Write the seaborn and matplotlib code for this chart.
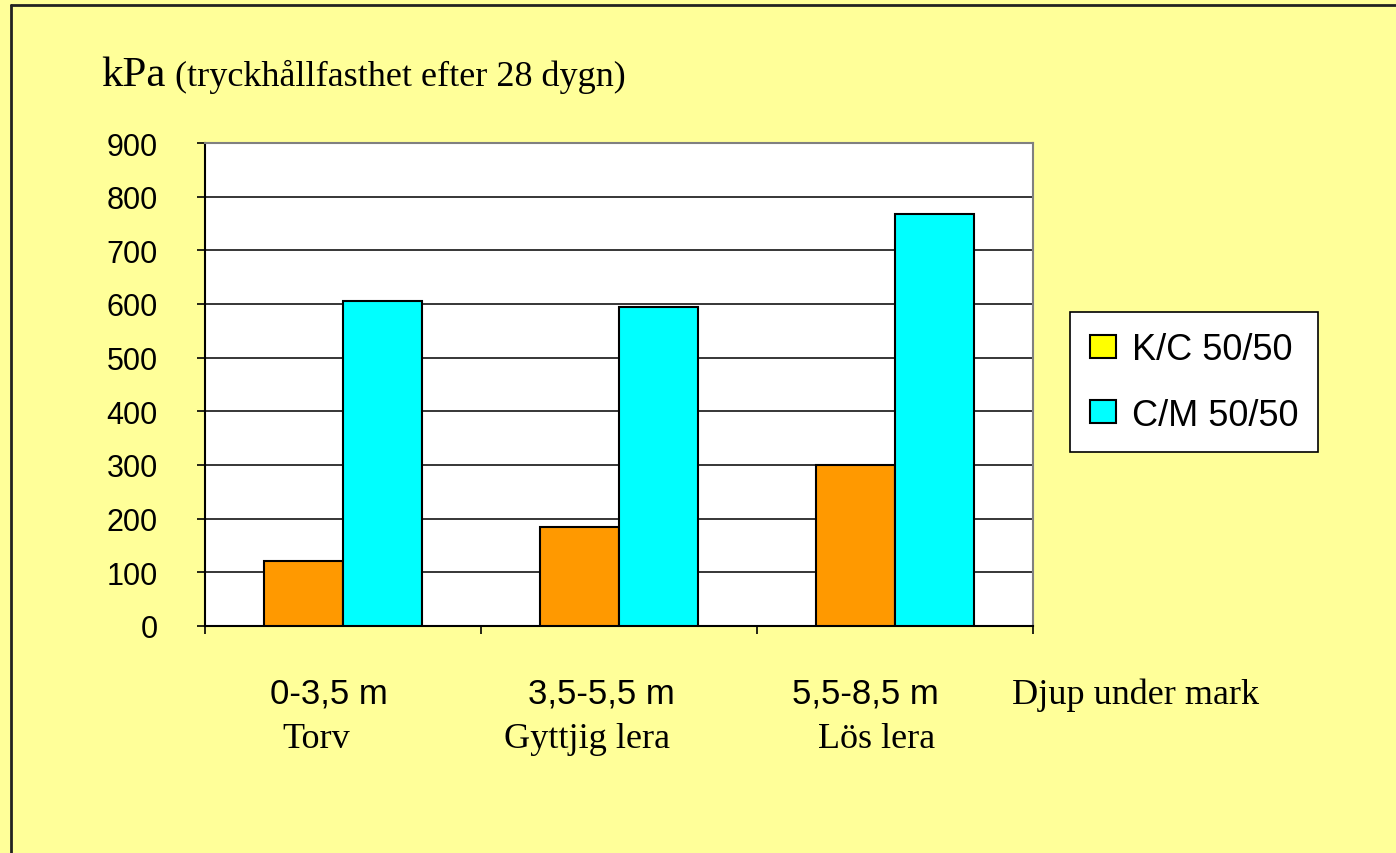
import matplotlib
matplotlib.use("Agg")
import matplotlib.pyplot as plt
from matplotlib.lines import Line2D
import pandas as pd
import seaborn as sns

# Data: compressive strength after 28 days (kPa)
depths = ["0-3,5 m", "3,5-5,5 m", "5,5-8,5 m"]
soils = ["Torv", "Gyttjig lera", "Lös lera"]
series = ["K/C 50/50", "C/M 50/50"]
kc_values = [122, 184, 300]
cm_values = [606, 595, 768]
y_ticks = [0, 100, 200, 300, 400, 500, 600, 700, 800, 900]

df = pd.DataFrame({
    "depth": depths * 2,
    "mix": [series[0]] * 3 + [series[1]] * 3,
    "kpa": kc_values + cm_values,
})

W, H = 1396, 854
BG = "#FFFF99"
sns.set_theme(style="white")
plt.rcParams["font.family"] = ["Liberation Sans", "DejaVu Sans"]
plt.rcParams["text.color"] = "black"
plt.rcParams["axes.labelcolor"] = "black"
plt.rcParams["xtick.color"] = "black"
plt.rcParams["ytick.color"] = "black"

fig = plt.figure(figsize=(W / 100, H / 100), dpi=100, facecolor=BG)
ax = fig.add_axes([205 / W, 1 - 627 / H, 828 / W, 483 / H])
ax.set_facecolor("white")

sns.barplot(
    data=df, x="depth", y="kpa", hue="mix", order=depths, hue_order=series,
    palette=["#FF9900", "#00FFFF"], width=0.57, gap=0,
    edgecolor="black", linewidth=1.5, saturation=1, ax=ax, legend=True,
    zorder=3,
)

ax.set_xlim(-0.5, 2.5)
ax.set_ylim(0, 900)
ax.set_yticks(y_ticks)
ax.set_yticklabels([str(v) for v in y_ticks], fontsize=22, color="black")
ax.set_xticks([-0.5, 0.5, 1.5, 2.5])
ax.set_xticklabels([])
ax.set_xlabel("")
ax.set_ylabel("")
ax.tick_params(axis="y", direction="out", length=6, width=1.2, color="black", pad=28, left=True)
ax.tick_params(axis="x", direction="out", length=6, width=1.2, color="black", bottom=True)
for v in y_ticks[1:-1]:
    ax.axhline(v, color="black", linewidth=1.1, zorder=1)

for side in ("left", "bottom"):
    ax.spines[side].set_color("black")
    ax.spines[side].set_linewidth(1.5)
for side in ("top", "right"):
    ax.spines[side].set_color("#808080")
    ax.spines[side].set_linewidth(1.5)

# Legend box to the right of the plot area
handles, labels = ax.get_legend_handles_labels()
ax.legend_.remove()
handles[0].set_facecolor("#FFFF00")
leg = fig.legend(
    handles, labels, loc="upper left",
    bbox_to_anchor=(1070 / W, 1 - 313 / H), bbox_transform=fig.transFigure,
    fontsize=26, frameon=True, fancybox=False, framealpha=1,
    edgecolor="black", facecolor="white", borderpad=0.55,
    handlelength=0.72, handleheight=0.6, handletextpad=0.45,
    labelspacing=0.85, borderaxespad=0,
)
leg.get_frame().set_linewidth(1.2)
for t in leg.get_texts():
    t.set_color("black")
for h in leg.legend_handles:
    h.set_edgecolor("black")
    h.set_linewidth(1.5)


def px(x, y):
    return x / W, 1 - y / H


SERIF = ["Liberation Serif", "DejaVu Serif"]

# Title texts
fig.text(*px(101, 86), "kPa", fontsize=31, family=SERIF, color="black",
         ha="left", va="baseline")
fig.text(*px(175, 86), "(tryckhållfasthet efter 28 dygn)", fontsize=26,
         family=SERIF, color="black", ha="left", va="baseline")

# Category labels below the axis
depth_x = [329, 601, 865]
soil_x = [316, 587, 877]
for d, s, dx, sx in zip(depths, soils, depth_x, soil_x):
    fig.text(*px(dx, 704), d, fontsize=25, color="black", ha="center", va="baseline")
    fig.text(*px(sx, 748), s, fontsize=26, family=SERIF, color="black",
             ha="center", va="baseline")
fig.text(*px(1012, 704), "Djup under mark", fontsize=26, family=SERIF,
         color="black", ha="left", va="baseline")

# Frame lines along the left and top edge of the slide
fig.add_artist(Line2D([11 / W, 11 / W], [0, 1 - 6 / H], transform=fig.transFigure,
                      color="#222222", linewidth=2))
fig.add_artist(Line2D([11 / W, 1], [1 - 6 / H, 1 - 6 / H], transform=fig.transFigure,
                      color="#222222", linewidth=2))

fig.savefig("out.png", dpi=100, facecolor=BG)
